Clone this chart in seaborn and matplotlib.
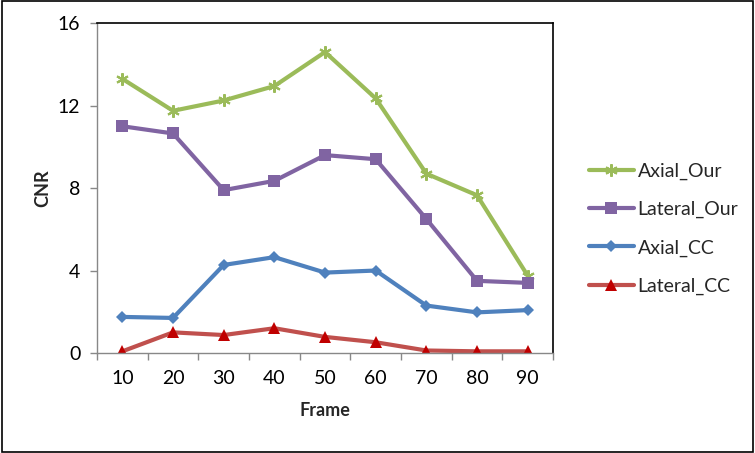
import numpy as np
import pandas as pd
import matplotlib
matplotlib.use("Agg")
import matplotlib.pyplot as plt
import seaborn as sns
from matplotlib.patches import Rectangle

# Dane
frames = [10, 20, 30, 40, 50, 60, 70, 80, 90]
axial_our = [13.3, 11.75, 12.25, 12.95, 14.6, 12.35, 8.7, 7.65, 3.75]
lateral_our = [11.0, 10.65, 7.9, 8.35, 9.6, 9.4, 6.5, 3.5, 3.4]
axial_cc = [1.75, 1.7, 4.27, 4.65, 3.9, 4.0, 2.3, 1.97, 2.08]
lateral_cc = [0.08, 1.0, 0.87, 1.2, 0.78, 0.52, 0.12, 0.08, 0.08]

series = {
    "Axial_Our": axial_our,
    "Lateral_Our": lateral_our,
    "Axial_CC": axial_cc,
    "Lateral_CC": lateral_cc,
}
styles = {
    "Axial_Our": dict(color="#9BBB59", marker=(6, 2, 0), markersize=9, mec="#9BBB59", mfc="#9BBB59", mew=1.5),
    "Lateral_Our": dict(color="#8064A2", marker="s", markersize=8, mec="#8064A2", mfc="#8064A2", mew=0),
    "Axial_CC": dict(color="#4F81BD", marker="D", markersize=6.5, mec="#4F81BD", mfc="#4F81BD", mew=0),
    "Lateral_CC": dict(color="#C0504D", marker="^", markersize=8, mec="#C00000", mfc="#C00000", mew=0),
}

sns.set_style("white")
plt.rcParams["font.family"] = ["Lato", "DejaVu Sans"]

fig = plt.figure(figsize=(7.55, 4.53), dpi=100)
ax = fig.add_axes([0.1285, 0.2208, 0.604, 0.728])

for name, vals in series.items():
    df = pd.DataFrame({"Frame": frames, "CNR": vals})
    sns.lineplot(data=df, x="Frame", y="CNR", ax=ax, linewidth=3, label=name, sort=False, **styles[name])

ax.set_xlim(5, 95)
ax.set_ylim(0, 16)
ax.set_xticks(frames)
ax.set_xticks(np.arange(5, 96, 10), minor=True)
ax.set_yticks([0, 4, 8, 12, 16])
ax.tick_params(axis="x", which="major", length=0, labelsize=14, pad=12, colors="black")
ax.tick_params(axis="x", which="minor", length=5, width=1, color="#888888", direction="out", bottom=True)
ax.tick_params(axis="y", length=5, width=1, color="#888888", direction="out", left=True,
               labelsize=14, pad=7, colors="black")
ax.set_xlabel("Frame", fontsize=13, fontweight="bold", labelpad=11)
ax.set_ylabel("CNR", fontsize=13, fontweight="bold", labelpad=5)

for side in ["left", "bottom"]:
    ax.spines[side].set_color("#888888")
    ax.spines[side].set_linewidth(1)
for side in ["top", "right"]:
    ax.spines[side].set_color("black")
    ax.spines[side].set_linewidth(1.2)

ax.get_legend().remove()
handles, labels = ax.get_legend_handles_labels()
fig.legend(handles, labels, loc="center left", bbox_to_anchor=(0.757, 0.495),
           frameon=False, fontsize=14, labelspacing=1.08, handlelength=2.3, handletextpad=0.2)

fig.patches.append(Rectangle((0.002, 0.002), 0.996, 0.996, transform=fig.transFigure,
                             fill=False, edgecolor="black", linewidth=1.2))

plt.savefig("out.png", dpi=100)
plt.close()
